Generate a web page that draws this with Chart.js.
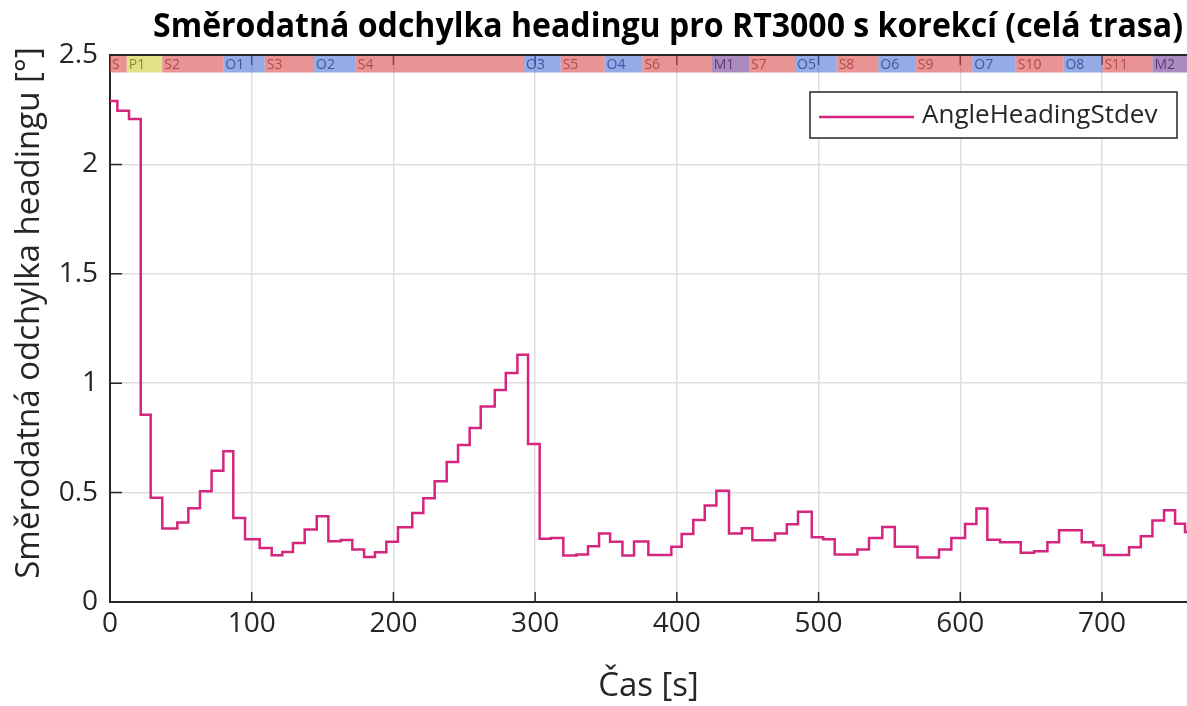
<!DOCTYPE html>
<html>
<head>
<meta charset="utf-8">
<script src="https://cdn.jsdelivr.net/npm/chart.js"></script>
<style>
    body { margin: 0; background: #fff; }
    #wrap { width: 1187px; height: 706px; }
</style>
</head>
<body>
<div id="wrap"><canvas id="myChart"></canvas></div>
<script>
const title = 'Směrodatná odchylka headingu pro RT3000 s korekcí (celá trasa)';
const yTitle = 'Směrodatná odchylka headingu [°]';

// step start times [s] and heading stdev [°]
const times = [0, 5.2, 13.4, 21.7, 28.7, 36.9, 47.5, 55.3, 63.5, 71.7, 80, 87, 95.3, 105.6, 114.1, 121.6, 129.1, 137.4, 145.9, 154.1,
    162.8, 171, 179.3, 187, 195, 203.2, 213.3, 221.1, 229.1, 237.6, 245.6, 253.8, 261.6, 271.5, 279.3, 287.5, 295, 303.2, 311, 319.9,
    329.2, 337.3, 345.1, 352.9, 361.6, 369.8, 379.9, 396.1, 403.4, 411.6, 419.7, 427.9, 436.8, 445.8, 453.3, 469.3, 477.6, 485.5, 495.2, 503.2,
    511.4, 527.4, 535.6, 545, 553.8, 569.8, 585, 593.7, 603.4, 611.4, 619.1, 628.1, 642.7, 652.1, 661.5, 669.7, 685.7, 693.9, 701.5, 719.1,
    727.4, 735.6, 743.8, 751.6, 758.6, 760];
const stdev = [2.29, 2.245, 2.208, 0.856, 0.476, 0.336, 0.363, 0.428, 0.506, 0.600, 0.689, 0.384, 0.287, 0.247, 0.214, 0.229, 0.270, 0.331, 0.392, 0.278,
    0.283, 0.240, 0.206, 0.227, 0.275, 0.342, 0.407, 0.474, 0.552, 0.640, 0.718, 0.795, 0.893, 0.969, 1.047, 1.130, 0.722, 0.289, 0.293, 0.212,
    0.217, 0.255, 0.313, 0.275, 0.212, 0.276, 0.215, 0.252, 0.311, 0.375, 0.441, 0.509, 0.313, 0.337, 0.282, 0.313, 0.355, 0.412, 0.296, 0.287,
    0.217, 0.240, 0.293, 0.343, 0.252, 0.203, 0.240, 0.293, 0.357, 0.427, 0.285, 0.273, 0.225, 0.232, 0.273, 0.328, 0.273, 0.258, 0.215, 0.250,
    0.300, 0.372, 0.419, 0.358, 0.320, 0.320];

const xTicks = [0, 100, 200, 300, 400, 500, 600, 700];
const yTicks = [0, 0.5, 1, 1.5, 2, 2.5];

// route segments shown in the strip along the top
const segNames = ['S', 'P1', 'S2', 'O1', 'S3', 'O2', 'S4', 'O3', 'S5', 'O4', 'S6', 'M1', 'S7', 'O5', 'S8', 'O6', 'S9', 'O7', 'S10', 'O8', 'S11', 'M2'];
const segStart = [0, 11.8, 36.9, 80, 109.2, 144, 173.4, 292.2, 318, 349, 375.7, 424.6, 451, 483.4, 512.8, 542.2, 568.6, 608.5, 639.2, 672.8, 700.3, 735.6];
const segEnd = [11.8, 36.9, 80, 109.2, 144, 173.4, 292.2, 318, 349, 375.7, 424.6, 451, 483.4, 512.8, 542.2, 568.6, 608.5, 639.2, 672.8, 700.3, 735.6, 760];

const segFill = { S: 'rgba(217,77,77,0.6)', O: 'rgba(80,113,213,0.6)', P: 'rgba(205,205,60,0.6)', M: 'rgba(113,63,147,0.6)' };
const segText = { S: '#b8474b', O: '#3a57a6', P: '#8c8c2e', M: '#64387f' };
const bandLow = 2.42;
const lineColor = '#d4267e';
const axisColor = '#262626';

Chart.defaults.font.family = '"Open Sans", sans-serif';

const decor = {
    id: 'decor',
    beforeDatasetsDraw(chart) {
        const { ctx, chartArea: a, scales: { x, y } } = chart;
        ctx.save();
        ctx.strokeStyle = axisColor;
        ctx.lineWidth = 1.5;
        ctx.beginPath();
        xTicks.forEach(v => {
            const px = x.getPixelForValue(v);
            ctx.moveTo(px, a.bottom); ctx.lineTo(px, a.bottom - 10);
            ctx.moveTo(px, a.top); ctx.lineTo(px, a.top + 10);
        });
        yTicks.forEach(v => {
            const py = y.getPixelForValue(v);
            ctx.moveTo(a.left, py); ctx.lineTo(a.left + 12, py);
        });
        ctx.stroke();

        const yTop = y.getPixelForValue(2.5);
        const yBot = y.getPixelForValue(bandLow);
        segNames.forEach((n, i) => {
            const x0 = x.getPixelForValue(segStart[i]);
            const x1 = x.getPixelForValue(segEnd[i]);
            ctx.fillStyle = segFill[n[0]];
            ctx.fillRect(x0, yTop, x1 - x0, yBot - yTop);
        });
        ctx.font = '14px "Open Sans"';
        ctx.textBaseline = 'middle';
        ctx.textAlign = 'left';
        segNames.forEach((n, i) => {
            ctx.fillStyle = segText[n[0]];
            ctx.fillText(n, x.getPixelForValue(segStart[i]) + 2, (yTop + yBot) / 2 + 1);
        });

        ctx.strokeStyle = axisColor;
        ctx.lineWidth = 2;
        ctx.beginPath();
        ctx.moveTo(a.left, a.top);
        ctx.lineTo(a.right, a.top);
        ctx.stroke();
        ctx.restore();
    },
    afterDraw(chart) {
        const { ctx } = chart;
        ctx.save();
        ctx.fillStyle = '#000';
        ctx.font = 'bold 34px "Open Sans"';
        ctx.textAlign = 'center';
        ctx.textBaseline = 'alphabetic';
        ctx.fillText(title, 668, 37, 1030);

        // y axis title
        ctx.save();
        ctx.translate(30, 313);
        ctx.rotate(-Math.PI / 2);
        ctx.fillStyle = axisColor;
        ctx.font = '33px "Open Sans"';
        ctx.textBaseline = 'middle';
        ctx.fillText(yTitle, 0, 0);
        ctx.restore();

        // legend box
        const ds = chart.data.datasets[0];
        ctx.fillStyle = '#fff';
        ctx.fillRect(810, 92, 367, 46);
        ctx.strokeStyle = axisColor;
        ctx.lineWidth = 1.5;
        ctx.strokeRect(810, 92, 367, 46);
        ctx.strokeStyle = ds.borderColor;
        ctx.lineWidth = 2.5;
        ctx.beginPath();
        ctx.moveTo(819, 117);
        ctx.lineTo(914, 117);
        ctx.stroke();
        ctx.fillStyle = axisColor;
        ctx.font = '26px "Open Sans"';
        ctx.textAlign = 'left';
        ctx.textBaseline = 'middle';
        ctx.fillText(ds.label, 922, 116);
        ctx.restore();
    }
};

new Chart("myChart", {
    type: 'line',
    data: {
        datasets: [{
            label: 'AngleHeadingStdev',
            data: times.map((t, i) => ({ x: t, y: stdev[i] })),
            borderColor: lineColor,
            borderWidth: 2.5,
            pointRadius: 0,
            stepped: true,
            fill: false
        }]
    },
    options: {
        responsive: true,
        maintainAspectRatio: false,
        animation: false,
        layout: { padding: { top: 55, right: 0, left: 0, bottom: 0 } },
        plugins: {
            legend: { display: false },
            tooltip: { enabled: false }
        },
        scales: {
            x: {
                type: 'linear',
                min: 0,
                max: 760,
                afterBuildTicks: scale => { scale.ticks = xTicks.map(v => ({ value: v })); },
                afterFit: scale => { scale.height = 104; },
                grid: { color: '#dedede', lineWidth: 1.5, drawTicks: false },
                border: { color: axisColor, width: 2 },
                ticks: { color: axisColor, font: { size: 28 }, padding: 5, maxRotation: 0 },
                title: { display: true, text: 'Čas [s]', color: axisColor, font: { size: 33 }, padding: 0 }
            },
            y: {
                min: 0,
                max: 2.5,
                afterBuildTicks: scale => { scale.ticks = yTicks.map(v => ({ value: v })); },
                afterFit: scale => { scale.width = 110; },
                grid: { color: '#dedede', lineWidth: 1.5, drawTicks: false },
                border: { color: axisColor, width: 2 },
                ticks: { color: axisColor, font: { size: 28 }, padding: 12, callback: v => String(v) }
            }
        }
    },
    plugins: [decor]
});
</script>
</body>
</html>
